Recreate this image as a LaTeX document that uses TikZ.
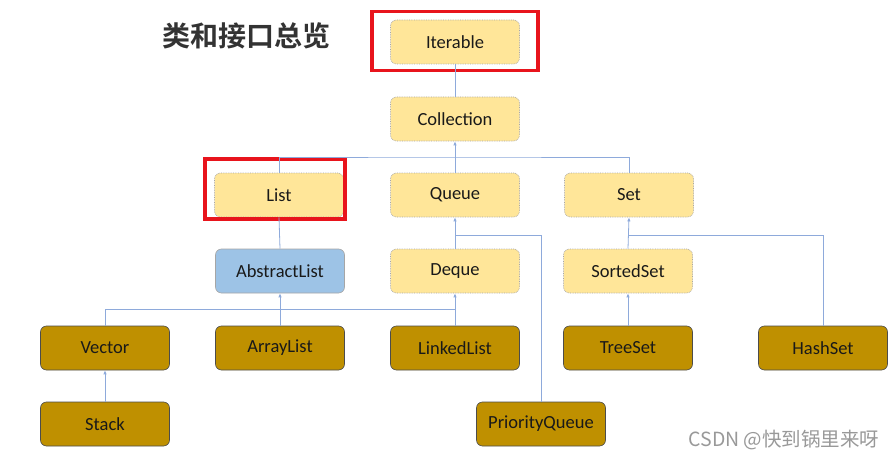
\documentclass[tikz,border=0pt]{standalone}
\usepackage{fontspec}
\setmainfont{Carlito}
\newfontfamily\cjk{Noto Sans CJK SC}
\newfontfamily\cjkb{Noto Sans CJK SC Bold}
\usetikzlibrary{arrows.meta}
\definecolor{lightY}{HTML}{FFE699}
\definecolor{gold}{HTML}{BF9000}
\definecolor{absblue}{HTML}{9DC3E6}
\definecolor{conncol}{HTML}{8EAADB}
\definecolor{redbox}{HTML}{E8141C}
\tikzset{
  base/.style={rounded corners=6pt, minimum width=129pt, minimum height=44pt, font=\fontsize{18.5}{22}\selectfont, text=black!90, inner sep=0pt},
  iface/.style={base, fill=lightY, draw=gray!70, densely dotted, line width=0.7pt},
  cls/.style={base, fill=gold, draw=gray!60!black, line width=0.6pt},
  abscls/.style={base, fill=absblue, draw=gray!70, line width=0.6pt},
  conn/.style={draw=conncol, line width=0.8pt},
  arr/.style={conn, -{Latex[length=4pt,width=3.5pt]}},
  hl/.style={draw=redbox, line width=3.5pt}
}
\begin{document}
\begin{tikzpicture}[x=1pt,y=-1pt]
\useasboundingbox[fill=white] (0,0) rectangle (895,460);
\node[iface] (iter) at (455,42) {Iterable};
\node[iface] (coll) at (455,119) {Collection};
\node[iface] (list) at (279,195) {List};
\node[iface] (queue) at (455,195) {Queue};
\node[iface] (set) at (629,195) {Set};
\node[abscls] (abs) at (280,271) {AbstractList};
\node[iface] (deque) at (455,271) {Deque};
\node[iface] (sorted) at (628,271) {SortedSet};
\node[cls] (vector) at (105,348) {Vector};
\node[cls] (alist) at (280,348) {ArrayList};
\node[cls] (llist) at (455,348) {LinkedList};
\node[cls] (tree) at (628,348) {TreeSet};
\node[cls] (hash) at (823,348) {HashSet};
\node[cls] (stack) at (105,424) {Stack};
\node[cls] (pq) at (541,424) {PriorityQueue};
% red highlight boxes
\node[hl, minimum width=166pt, minimum height=59pt, inner sep=0pt] (hiter) at (455,41) {};
\node[hl, minimum width=140pt, minimum height=60pt, inner sep=0pt] (hlist) at (275,189) {};
% title and watermark
\node[font=\cjkb\fontsize{28}{32}\selectfont, text=black!80] (title) at (246,36) {类和接口总览};
\node[font=\cjk\fontsize{19.5}{23}\selectfont, text=gray!80] (wm) at (784,440) {CSDN @快到锅里来呀};
% connectors
\coordinate (cb) at (455,157);
\coordinate (qb) at (455,235);
\coordinate (sb) at (628,235);
\coordinate (lb) at (455,309);
\draw[conn] (coll.north) -- (iter.south);
\draw[arr] (cb) -- (coll.south);
\draw[conn] (list.north) |- (cb) -| (set.north);
\draw[conn] (queue.north) -- (cb);
\draw[conn] (abs.north) -- (list.south);
\draw[arr] (deque.north) -- (queue.south);
\draw[conn] (qb) -| (pq.north);
\draw[arr] (sorted.north) -- (set.south);
\draw[conn] (sb) -| (hash.north);
\draw[arr] (tree.north) -- (sorted.south);
\draw[arr] (alist.north) -- (abs.south);
\draw[arr] (llist.north) -- (deque.south);
\draw[conn] (vector.north) |- (lb);
\draw[arr] (stack.north) -- (vector.south);
\end{tikzpicture}
\end{document}
